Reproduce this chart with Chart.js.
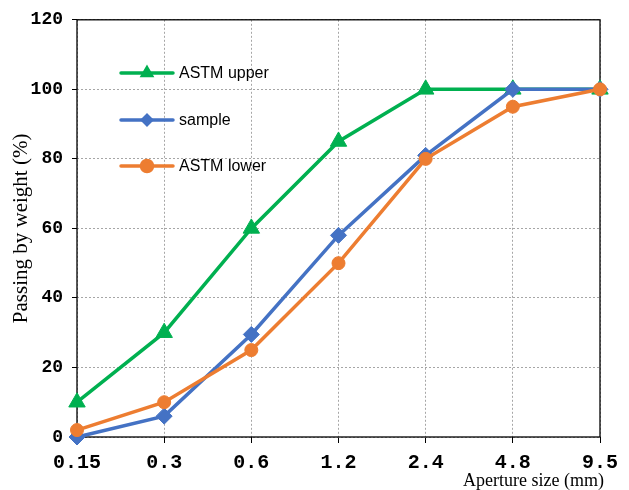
<!DOCTYPE html>
<html>
<head>
<meta charset="utf-8">
<script src="https://cdn.jsdelivr.net/npm/chart.js@4"></script>
<style>
  html, body { margin: 0; padding: 0; background: #fff; }
  #wrap { width: 629px; height: 490px; }
</style>
</head>
<body>
<div id="wrap"><canvas id="chart"></canvas></div>
<script>
// Data
const apertures = ['0.15', '0.3', '0.6', '1.2', '2.4', '4.8', '9.5'];
const astmUpper = [10, 30, 60, 85, 100, 100, 100];
const sample = [0, 6, 29.5, 58, 81, 100, 100];
const astmLower = [2, 10, 25, 50, 80, 95, 100];
const yTicks = [0, 20, 40, 60, 80, 100, 120];

const colors = { upper: '#00B050', sample: '#4472C4', lower: '#ED7D31', grid: '#a6a6a6' };

// Frame around the plot area
const framePlugin = {
    id: 'frame',
    beforeDatasetsDraw(chart) {
        const { ctx, chartArea: a } = chart;
        ctx.save();
        ctx.strokeStyle = '#000';
        ctx.lineWidth = 1.3;
        ctx.strokeRect(a.left, a.top, a.right - a.left, a.bottom - a.top);
        ctx.restore();
    }
};

// Legend drawn inside the plot, plus x title at the bottom right
const insideLegend = {
    id: 'insideLegend',
    afterDraw(chart) {
        const ctx = chart.ctx;
        const rows = [73, 120, 166];
        ctx.save();
        chart.data.datasets.forEach((ds, i) => {
            const y = rows[i];
            ctx.strokeStyle = ds.borderColor;
            ctx.lineWidth = 3.5;
            ctx.lineCap = 'round';
            ctx.beginPath();
            ctx.moveTo(121, y);
            ctx.lineTo(173, y);
            ctx.stroke();
            ctx.fillStyle = ds.borderColor;
            ctx.strokeStyle = ds.borderColor;
            Chart.helpers.drawPoint(ctx, { pointStyle: ds.pointStyle, radius: ds.legendRadius, rotation: 0, borderWidth: 1 }, 147, y);
            ctx.fillStyle = '#000';
            ctx.font = '16px "Liberation Sans", Arial, sans-serif';
            ctx.textAlign = 'left';
            ctx.textBaseline = 'middle';
            ctx.fillText(ds.label, 179, y + 1);
        });
        ctx.font = '18px "Liberation Serif", "Times New Roman", serif';
        ctx.textAlign = 'right';
        ctx.textBaseline = 'middle';
        ctx.fillStyle = '#000';
        ctx.fillText('Aperture size (mm)', 604, 481);
        ctx.restore();
    }
};

new Chart(document.getElementById('chart'), {
    type: 'line',
    data: {
        labels: apertures,
        datasets: [
            { label: 'ASTM upper', data: astmUpper, borderColor: colors.upper, backgroundColor: colors.upper,
              pointStyle: 'triangle', pointRadius: 9.5, legendRadius: 5, order: 3 },
            { label: 'sample', data: sample, borderColor: colors.sample, backgroundColor: colors.sample,
              pointStyle: 'rectRot', pointRadius: 8, legendRadius: 4.5, order: 2 },
            { label: 'ASTM lower', data: astmLower, borderColor: colors.lower, backgroundColor: colors.lower,
              pointStyle: 'circle', pointRadius: 6.5, legendRadius: 5.5, order: 1 }
        ].map(d => Object.assign({ borderWidth: 3.5, pointBorderWidth: 1, tension: 0, clip: false }, d))
    },
    options: {
        responsive: true,
        maintainAspectRatio: false,
        animation: false,
        layout: { padding: { left: 0, right: 29, top: 19, bottom: 0 } },
        plugins: {
            legend: { display: false },
            tooltip: { enabled: false }
        },
        scales: {
            x: {
                type: 'category',
                offset: false,
                border: { display: false, dash: [2, 2] },
                grid: { color: colors.grid, lineWidth: 1, tickLength: 6, tickColor: '#000', tickBorderDash: [], tickWidth: 1 },
                ticks: { color: '#000', padding: 8, maxRotation: 0, autoSkip: false,
                         font: { family: '"Liberation Mono", "Courier New", monospace', size: 20, weight: 'bold' } },
                afterFit: (s) => { s.height = 53; }
            },
            y: {
                min: 0,
                max: 120,
                afterBuildTicks: (s) => { s.ticks = yTicks.map(v => ({ value: v })); },
                border: { display: false, dash: [2, 2] },
                grid: { color: colors.grid, lineWidth: 1, tickLength: 5, tickColor: '#000', tickBorderDash: [], tickWidth: 1 },
                ticks: { color: '#000', padding: 9,
                         font: { family: '"Liberation Mono", "Courier New", monospace', size: 18, weight: 'bold' } },
                title: { display: true, text: 'Passing by weight (%)', color: '#000', padding: { top: 9, bottom: 0 },
                         font: { family: '"Liberation Serif", "Times New Roman", serif', size: 21 } },
                afterFit: (s) => { s.width = 77; }
            }
        }
    },
    plugins: [framePlugin, insideLegend]
});
</script>
</body>
</html>
